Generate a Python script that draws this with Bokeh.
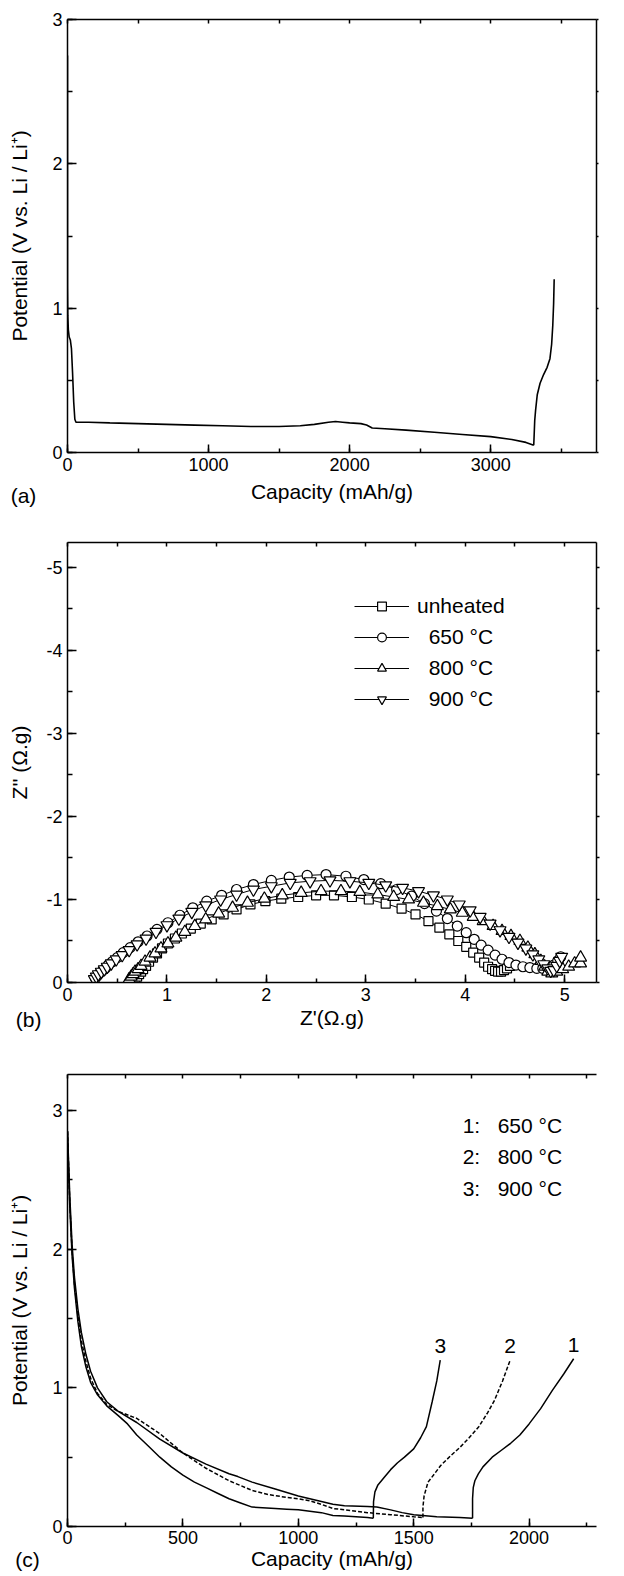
from bokeh.plotting import figure
from bokeh.models import (Range1d, LinearAxis, SingleIntervalTicker, Label,
                          Legend, LegendItem, ColumnDataSource, CustomJSTickFormatter)
from bokeh.layouts import column
from bokeh.embed import file_html
from bokeh.resources import INLINE
from bokeh.core.properties import value

FONT = "Liberation Sans"

# ---------------- (a) first discharge / charge of the unheated electrode ----------------
cap_a_dis = [0, 0, 2, 6, 12, 20, 28, 36, 44, 52, 60, 80, 150, 300, 500, 700, 900, 1100,
             1300, 1500, 1650, 1750, 1850, 1900, 1950, 2000, 2080, 2120, 2160, 2250,
             2400, 2600, 2800, 3000, 3150, 3250, 3305]
pot_a_dis = [2.75, 1.15, 0.95, 0.85, 0.80, 0.78, 0.72, 0.55, 0.35, 0.23, 0.21, 0.21, 0.21,
             0.205, 0.20, 0.195, 0.19, 0.185, 0.18, 0.18, 0.185, 0.195, 0.21, 0.215, 0.21,
             0.205, 0.20, 0.19, 0.17, 0.165, 0.155, 0.14, 0.125, 0.11, 0.09, 0.07, 0.05]
cap_a_chg = [3305, 3308, 3312, 3318, 3330, 3350, 3375, 3400, 3420, 3432, 3440, 3446, 3450]
pot_a_chg = [0.05, 0.12, 0.22, 0.29, 0.40, 0.48, 0.54, 0.59, 0.65, 0.75, 0.88, 1.03, 1.20]

# ---------------- (b) Nyquist plots ----------------
zre_unheated = [0.68, 0.70, 0.72, 0.74, 0.76, 0.79, 0.82, 0.86, 0.90, 0.95, 1.01, 1.08, 1.15,
                1.24, 1.34, 1.45, 1.57, 1.70, 1.84, 1.99, 2.15, 2.32, 2.50, 2.68, 2.86, 3.03,
                3.20, 3.36, 3.50, 3.63, 3.74, 3.84, 3.93, 4.01, 4.08, 4.14, 4.19, 4.23, 4.27,
                4.30, 4.33, 4.36, 4.39, 4.42, 4.45]
zim_unheated = [-0.04, -0.07, -0.10, -0.13, -0.16, -0.20, -0.25, -0.30, -0.35, -0.41, -0.47,
                -0.53, -0.59, -0.65, -0.71, -0.76, -0.82, -0.88, -0.94, -0.98, -1.01, -1.03,
                -1.05, -1.05, -1.03, -1.00, -0.95, -0.89, -0.82, -0.74, -0.66, -0.58, -0.50,
                -0.43, -0.36, -0.30, -0.24, -0.19, -0.16, -0.14, -0.13, -0.13, -0.15, -0.17, -0.20]

zre_650 = [0.28, 0.30, 0.32, 0.35, 0.38, 0.41, 0.45, 0.50, 0.56, 0.63, 0.71, 0.80, 0.90, 1.01,
           1.13, 1.26, 1.40, 1.55, 1.70, 1.87, 2.05, 2.23, 2.41, 2.60, 2.80, 2.98, 3.15, 3.31,
           3.46, 3.59, 3.71, 3.82, 3.92, 4.01, 4.09, 4.16, 4.23, 4.30, 4.37, 4.44, 4.51, 4.58,
           4.65, 4.72, 4.78, 4.84, 4.89, 4.93, 4.96]
zim_650 = [-0.05, -0.08, -0.11, -0.14, -0.17, -0.21, -0.25, -0.30, -0.36, -0.42, -0.49, -0.56,
           -0.64, -0.72, -0.81, -0.90, -0.98, -1.05, -1.12, -1.18, -1.23, -1.27, -1.29, -1.30,
           -1.28, -1.24, -1.19, -1.12, -1.04, -0.95, -0.86, -0.77, -0.68, -0.60, -0.52, -0.45,
           -0.39, -0.33, -0.28, -0.24, -0.21, -0.19, -0.18, -0.17, -0.17, -0.18, -0.21, -0.26, -0.31]

zre_800 = [0.62, 0.64, 0.66, 0.68, 0.71, 0.74, 0.78, 0.83, 0.88, 0.94, 1.01, 1.09, 1.18, 1.28,
           1.39, 1.52, 1.66, 1.81, 1.98, 2.16, 2.35, 2.55, 2.75, 2.94, 3.12, 3.28, 3.43, 3.58,
           3.72, 3.85, 3.97, 4.08, 4.18, 4.28, 4.37, 4.46, 4.55, 4.63, 4.70, 4.76, 4.80, 4.83,
           4.87, 4.92, 4.98, 5.04, 5.10, 5.16, 5.16]
zim_800 = [-0.04, -0.07, -0.10, -0.13, -0.16, -0.20, -0.25, -0.30, -0.35, -0.41, -0.47, -0.54,
           -0.61, -0.68, -0.76, -0.83, -0.90, -0.96, -1.01, -1.05, -1.08, -1.10, -1.10, -1.09,
           -1.06, -1.03, -1.00, -0.96, -0.92, -0.88, -0.84, -0.79, -0.74, -0.68, -0.62, -0.56,
           -0.50, -0.42, -0.34, -0.26, -0.19, -0.13, -0.11, -0.13, -0.16, -0.19, -0.23, -0.23, -0.30]

zre_900 = [0.27, 0.29, 0.31, 0.34, 0.37, 0.40, 0.44, 0.49, 0.55, 0.62, 0.70, 0.79, 0.89, 1.00,
           1.12, 1.25, 1.39, 1.54, 1.70, 1.87, 2.05, 2.24, 2.44, 2.64, 2.84, 3.03, 3.20, 3.37,
           3.53, 3.68, 3.82, 3.94, 4.05, 4.15, 4.25, 4.35, 4.44, 4.53, 4.61, 4.68, 4.74, 4.79,
           4.83, 4.86, 4.89, 4.92, 4.95, 4.97]
zim_900 = [-0.04, -0.07, -0.10, -0.13, -0.16, -0.19, -0.23, -0.28, -0.33, -0.39, -0.46, -0.53,
           -0.61, -0.69, -0.77, -0.85, -0.93, -1.00, -1.06, -1.12, -1.16, -1.20, -1.22, -1.23,
           -1.22, -1.20, -1.17, -1.14, -1.10, -1.05, -1.00, -0.94, -0.87, -0.79, -0.71, -0.63,
           -0.55, -0.48, -0.41, -0.34, -0.28, -0.22, -0.17, -0.14, -0.15, -0.20, -0.26, -0.31]

series_b = ["unheated", "650 °C", "800 °C", "900 °C"]

# ---------------- (c) discharge / charge after heat treatment ----------------
cap_c1_dis = [0, 5, 10, 20, 30, 45, 60, 80, 100, 130, 170, 220, 300, 400, 500, 600, 700, 738,
              800, 900, 1000, 1100, 1150, 1200, 1300, 1340, 1400, 1450, 1500, 1600, 1700, 1755]
pot_c1_dis = [2.85, 2.62, 2.38, 2.03, 1.80, 1.57, 1.40, 1.24, 1.12, 1.00, 0.90, 0.83, 0.75,
              0.63, 0.53, 0.45, 0.38, 0.36, 0.32, 0.27, 0.22, 0.18, 0.16, 0.15, 0.145, 0.14,
              0.12, 0.10, 0.085, 0.07, 0.065, 0.06]
cap_c1_chg = [1755, 1755, 1758, 1765, 1780, 1800, 1840, 1880, 1920, 1960, 2000, 2050, 2100, 2150, 2193]
pot_c1_chg = [0.06, 0.20, 0.28, 0.33, 0.38, 0.43, 0.50, 0.55, 0.60, 0.66, 0.74, 0.85, 0.98, 1.10, 1.21]

cap_c2_dis = [0, 5, 10, 20, 30, 45, 60, 80, 100, 130, 170, 220, 300, 400, 500, 600, 700, 800,
              870, 950, 1000, 1050, 1100, 1150, 1200, 1300, 1400, 1500, 1540]
pot_c2_dis = [2.85, 2.58, 2.33, 1.98, 1.75, 1.52, 1.34, 1.19, 1.07, 0.96, 0.88, 0.83, 0.78,
              0.67, 0.53, 0.42, 0.33, 0.26, 0.23, 0.21, 0.20, 0.185, 0.16, 0.13, 0.12, 0.10,
              0.085, 0.07, 0.065]
cap_c2_chg = [1540, 1540, 1545, 1562, 1590, 1617, 1660, 1700, 1740, 1782, 1820, 1850, 1885, 1918]
pot_c2_chg = [0.065, 0.14, 0.22, 0.32, 0.38, 0.44, 0.51, 0.57, 0.64, 0.72, 0.82, 0.91, 1.05, 1.20]

cap_c3_dis = [0, 5, 10, 20, 30, 45, 60, 80, 100, 130, 170, 220, 260, 300, 350, 400, 450, 500,
              550, 600, 650, 700, 750, 800, 900, 950, 1000, 1050, 1100, 1150, 1200, 1250, 1300, 1325]
pot_c3_dis = [2.85, 2.55, 2.30, 1.95, 1.72, 1.48, 1.30, 1.15, 1.04, 0.95, 0.87, 0.80, 0.74,
              0.66, 0.58, 0.50, 0.43, 0.37, 0.32, 0.28, 0.24, 0.20, 0.17, 0.14, 0.13, 0.125,
              0.12, 0.11, 0.10, 0.08, 0.075, 0.07, 0.065, 0.06]
cap_c3_chg = [1325, 1326, 1332, 1345, 1370, 1400, 1430, 1460, 1500, 1530, 1555, 1580, 1600, 1615]
pot_c3_chg = [0.06, 0.18, 0.25, 0.30, 0.35, 0.41, 0.46, 0.50, 0.56, 0.64, 0.72, 0.90, 1.05, 1.20]

curve_ids_c = ["1", "2", "3"]
legend_c = ["1:\u00a0\u00a0\u00a0650 °C", "2:\u00a0\u00a0\u00a0800 °C", "3:\u00a0\u00a0\u00a0900 °C"]

PLAIN_MINUS = CustomJSTickFormatter(code="return tick.toString()")


def style_main_axis(ax, tick_in, minor_in):
    ax.axis_line_color = "black"
    ax.axis_line_width = 1.5
    ax.major_tick_line_color = "black"
    ax.major_tick_line_width = 1.5
    ax.minor_tick_line_color = "black"
    ax.minor_tick_line_width = 1.5
    ax.major_tick_in = tick_in
    ax.major_tick_out = 0
    ax.minor_tick_in = minor_in
    ax.minor_tick_out = 0
    ax.major_label_text_font = FONT
    ax.major_label_text_font_size = "18px"
    ax.major_label_text_color = "black"
    ax.axis_label_text_font = FONT
    ax.axis_label_text_font_size = "21px"
    ax.axis_label_text_font_style = "normal"
    ax.axis_label_text_color = "black"


def frame_axis(interval, tick_in, tick_out):
    ax = LinearAxis(ticker=SingleIntervalTicker(interval=interval, num_minor_ticks=0),
                    formatter=CustomJSTickFormatter(code="return ''"))
    ax.major_label_text_font_size = "0px"
    ax.major_label_standoff = 0
    ax.axis_line_color = "black"
    ax.axis_line_width = 1.5
    ax.major_tick_line_color = "black"
    ax.major_tick_line_width = 1.5
    ax.major_tick_in = tick_in
    ax.major_tick_out = tick_out
    ax.minor_tick_in = 0
    ax.minor_tick_out = 0
    return ax


def base_figure(height, xr, yr, left, right, top, bottom):
    p = figure(width=624, height=height, x_range=xr, y_range=yr,
               output_backend="svg", toolbar_location=None,
               min_border_left=left, min_border_right=right,
               min_border_top=top, min_border_bottom=bottom)
    p.outline_line_color = None
    p.grid.visible = False
    p.background_fill_color = "white"
    p.border_fill_color = "white"
    return p


def panel_tag(p, text, x, y, side):
    # tag sits in the corner below the y axis; kept in a side panel so it is not clipped
    p.add_layout(Label(x=x, y=y, x_units="data", y_units="data", text=text,
                       text_font=FONT, text_font_size="21px", text_color="black",
                       text_baseline="middle", text_align="left"), side)


# ---------- panel (a) ----------
pa = base_figure(515, Range1d(0, 3750), Range1d(0, 3), 67, 27, 19, 63)
pa.xaxis.ticker = SingleIntervalTicker(interval=1000, num_minor_ticks=2)
pa.yaxis.ticker = SingleIntervalTicker(interval=1, num_minor_ticks=2)
style_main_axis(pa.xaxis[0], 8, 4)
style_main_axis(pa.yaxis[0], 9, 5)
pa.xaxis.axis_label = "Capacity (mAh/g)"
pa.yaxis.axis_label = "Potential (V vs. Li / Li⁺)"
pa.xaxis.major_label_standoff = 5
pa.xaxis.axis_label_standoff = 6
pa.yaxis.major_label_standoff = 5
pa.yaxis.axis_label_standoff = 18
pa.add_layout(frame_axis(500, 4, 0), "above")
pa.add_layout(frame_axis(0.5, 0, 2), "right")
pa.line(cap_a_dis, pot_a_dis, line_color="black", line_width=1.6)
pa.line(cap_a_chg, pot_a_chg, line_color="black", line_width=1.6)
panel_tag(pa, "(a)", -403, -0.298, "right")

# ---------- panel (b) ----------
pb = base_figure(525, Range1d(0, 5.32), Range1d(0, -5.3), 66, 5, 27, 58)
pb.xaxis.ticker = SingleIntervalTicker(interval=1, num_minor_ticks=2)
pb.yaxis.ticker = SingleIntervalTicker(interval=1, num_minor_ticks=2)
pb.yaxis.formatter = PLAIN_MINUS
style_main_axis(pb.xaxis[0], 8, 4)
style_main_axis(pb.yaxis[0], 9, 5)
pb.xaxis.axis_label = "Z'(Ω.g)"
pb.yaxis.axis_label = "Z'' (Ω.g)"
pb.xaxis.major_label_standoff = 5
pb.xaxis.axis_label_standoff = 2
pb.yaxis.major_label_standoff = 5
pb.yaxis.axis_label_standoff = 12
pb.add_layout(frame_axis(0.5, 4, 0), "above")
pb.add_layout(frame_axis(0.5, 0, 3), "right")

items = []
for name, xs, ys, marker, size in zip(
        series_b,
        [zre_unheated, zre_650, zre_800, zre_900],
        [zim_unheated, zim_650, zim_800, zim_900],
        ["square", "circle", "triangle", "inverted_triangle"],
        [9, 10, 12, 12]):
    src = ColumnDataSource(dict(x=xs, y=ys))
    ln = pb.line("x", "y", source=src, line_color="black", line_width=1)
    sc = pb.scatter("x", "y", source=src, marker=marker, size=size,
                    fill_color="white", line_color="black", line_width=1.2)
    label = name if name == "unheated" else "\u00a0\u00a0" + name
    items.append(LegendItem(label=label, renderers=[ln, sc]))

leg = Legend(items=items, location=(287, 271), border_line_color=None,
             background_fill_alpha=0, padding=0, margin=0, spacing=7,
             glyph_width=55, glyph_height=22, label_height=22, label_standoff=8,
             label_text_font=FONT, label_text_font_size="21px", label_text_color="black")
pb.add_layout(leg)
panel_tag(pb, "(b)", -0.52, 0.446, "above")

# ---------- panel (c) ----------
pc = base_figure(536, Range1d(0, 2292), Range1d(0, 3.26), 67, 0, 34, 50)
pc.xaxis.ticker = SingleIntervalTicker(interval=500, num_minor_ticks=2)
pc.yaxis.ticker = SingleIntervalTicker(interval=1, num_minor_ticks=2)
style_main_axis(pc.xaxis[0], 8, 4)
style_main_axis(pc.yaxis[0], 9, 5)
pc.xaxis.axis_label = "Capacity (mAh/g)"
pc.yaxis.axis_label = "Potential (V vs. Li / Li⁺)"
pc.xaxis.major_label_standoff = 4
pc.xaxis.axis_label_standoff = 0
pc.yaxis.major_label_standoff = 5
pc.yaxis.axis_label_standoff = 18
pc.add_layout(frame_axis(250, 4, 0), "above")

pc.line(cap_c1_dis, pot_c1_dis, line_color="black", line_width=1.5)
pc.line(cap_c1_chg, pot_c1_chg, line_color="black", line_width=1.5)
pc.line(cap_c2_dis, pot_c2_dis, line_color="black", line_width=1.5, line_dash="4 2")
pc.line(cap_c2_chg, pot_c2_chg, line_color="black", line_width=1.5, line_dash="4 2")
pc.line(cap_c3_dis, pot_c3_dis, line_color="black", line_width=1.5)
pc.line(cap_c3_chg, pot_c3_chg, line_color="black", line_width=1.5)

# number each curve just above the end of its charge branch
ends_x = [cap_c1_chg[-1], cap_c2_chg[-1], cap_c3_chg[-1]]
ends_y = [pot_c1_chg[-1] + 0.1, pot_c2_chg[-1] + 0.1, pot_c3_chg[-1] + 0.1]
pc.text(x=ends_x, y=ends_y, text=curve_ids_c, text_font=value(FONT),
        text_font_size="21px", text_color="black", text_align="center",
        text_baseline="middle")

for i, t in enumerate(legend_c):
    pc.add_layout(Label(x=1712, y=2.89 - 0.225 * i, text=t, text_font=FONT,
                        text_font_size="21px", text_color="black",
                        text_baseline="middle", text_align="left"))
panel_tag(pc, "(c)", -226, -0.235, "above")

layout = column(pa, pb, pc, spacing=0)
open("out.html", "w").write(file_html(layout, INLINE))
